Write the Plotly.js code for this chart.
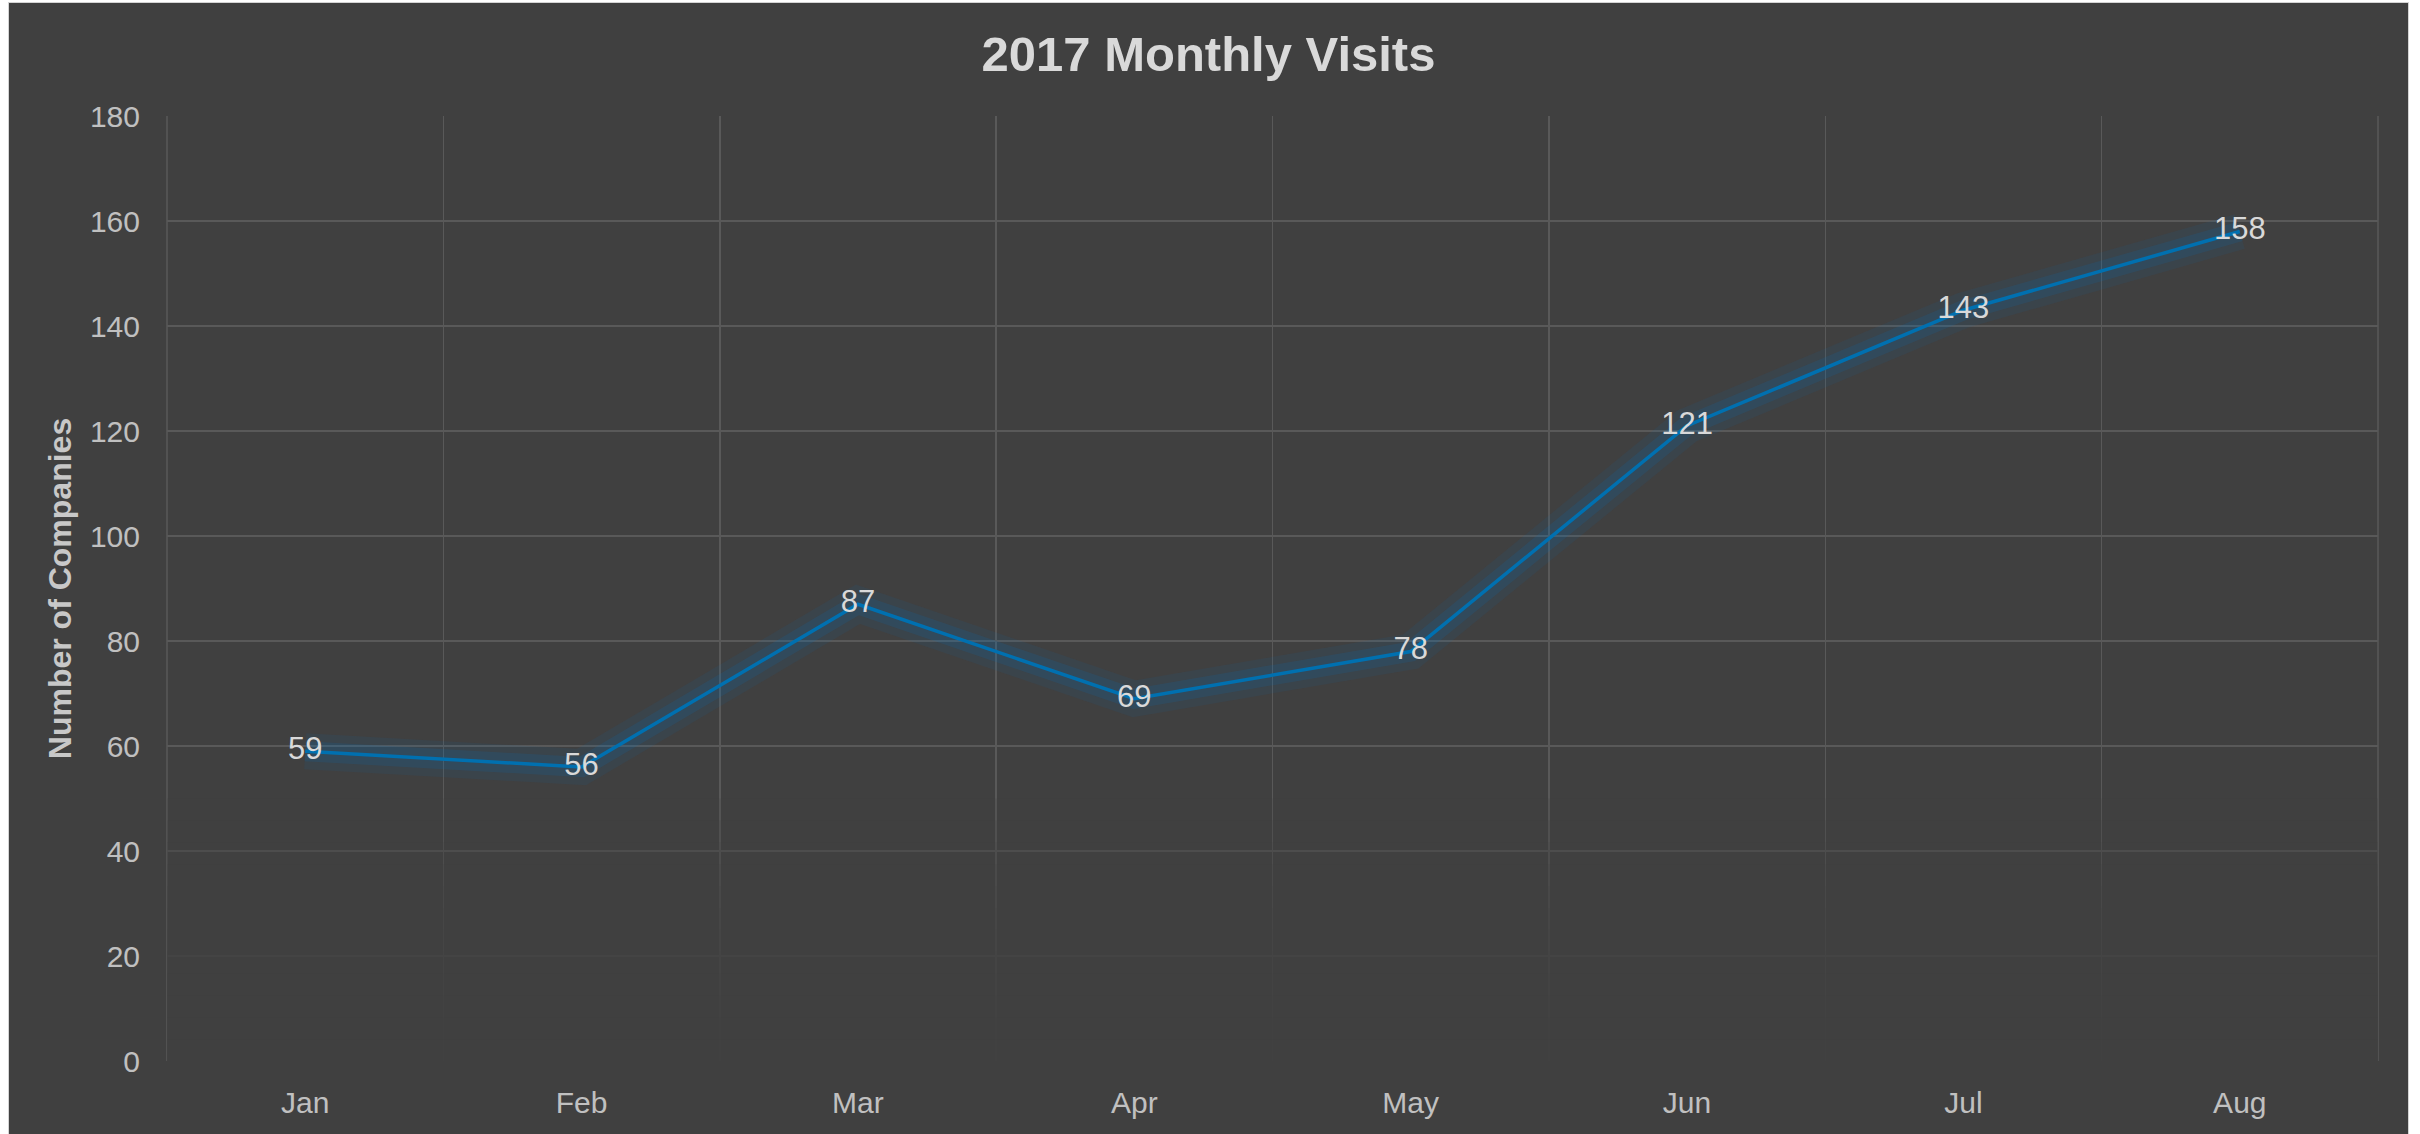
<!DOCTYPE html>
<html>
<head>
<meta charset="utf-8">
<script src="https://cdn.plot.ly/plotly-3.0.1.min.js"></script>
<style>
  html, body { margin: 0; padding: 0; background: #ffffff; overflow: hidden; }
  #chart { position: absolute; left: 8px; top: 2px; width: 2399px; height: 1131px; border: 1px solid #d4d4d4; border-bottom: none; }
</style>
</head>
<body>
<div id="chart"></div>
<script>
// ---- data ----
const months = ["Jan", "Feb", "Mar", "Apr", "May", "Jun", "Jul", "Aug"];
const visits = [59, 56, 87, 69, 78, 121, 143, 158];
const yTickVals = [0, 20, 40, 60, 80, 100, 120, 140, 160, 180];

const FONT = "Liberation Sans, Arial, Helvetica, sans-serif";
const BG = "#404040";
const LINE = "#0070b0";
const GRID = "#595959";

const glowOuter = {
  x: months, y: visits, type: "scatter", mode: "lines",
  line: { color: "rgba(0,112,192,0.09)", width: 36 },
  hoverinfo: "skip", showlegend: false
};
const glowInner = {
  x: months, y: visits, type: "scatter", mode: "lines",
  line: { color: "rgba(0,112,192,0.15)", width: 20 },
  hoverinfo: "skip", showlegend: false
};
const main = {
  x: months, y: visits, type: "scatter", mode: "lines+text",
  line: { color: LINE, width: 3.5 },
  text: visits.map(String),
  textposition: "middle center",
  textfont: { family: FONT, size: 31, color: "#d9d9d9" },
  showlegend: false
};

// plot-area side borders, then a decorative fade of the lower gridlines
const shapes = [
  { type: "line", layer: "above", xref: "paper", yref: "paper", x0: 0, x1: 0, y0: 0, y1: 1, line: { color: GRID, width: 1.5 } },
  { type: "line", layer: "above", xref: "paper", yref: "paper", x0: 1, x1: 1, y0: 0, y1: 1, line: { color: GRID, width: 1.5 } }
];
const bands = 12;
for (let i = 0; i < bands; i++) {
  shapes.push({
    type: "rect", layer: "above",
    xref: "paper", yref: "y",
    x0: 0, x1: 1, y0: 0, y1: 50 * (1 - i / bands),
    fillcolor: BG, opacity: 0.2, line: { width: 0 }
  });
}

const layout = {
  width: 2399, height: 1131,
  paper_bgcolor: BG, plot_bgcolor: BG,
  margin: { l: 158, r: 30, t: 113, b: 73 },
  title: {
    text: "2017 Monthly Visits",
    font: { family: FONT, size: 49, color: "#d9d9d9", weight: "bold" },
    x: 0.5, xanchor: "center",
    y: 1 - 51 / 1131, yref: "container", yanchor: "middle"
  },
  xaxis: {
    type: "category",
    range: [-0.5, months.length - 0.5],
    tickson: "boundaries",
    showgrid: true, gridcolor: GRID, gridwidth: 1.5,
    ticks: "", showline: false, zeroline: false,
    tickfont: { family: FONT, size: 30, color: "#c0c0c0" },
    ticklabelstandoff: 21,
    fixedrange: true
  },
  yaxis: {
    range: [0, 180],
    tickvals: yTickVals,
    showgrid: true, gridcolor: GRID, gridwidth: 1.5,
    ticks: "", showline: false, zeroline: false,
    tickfont: { family: FONT, size: 30, color: "#c0c0c0" },
    ticklabelstandoff: 26,
    title: {
      text: "Number of Companies",
      font: { family: FONT, size: 32, color: "#c8c8c8", weight: "bold" },
      standoff: 8
    },
    fixedrange: true
  },
  shapes: shapes,
  showlegend: false
};

Plotly.newPlot("chart", [glowOuter, glowInner, main], layout, { displayModeBar: false, staticPlot: true });
</script>
</body>
</html>
